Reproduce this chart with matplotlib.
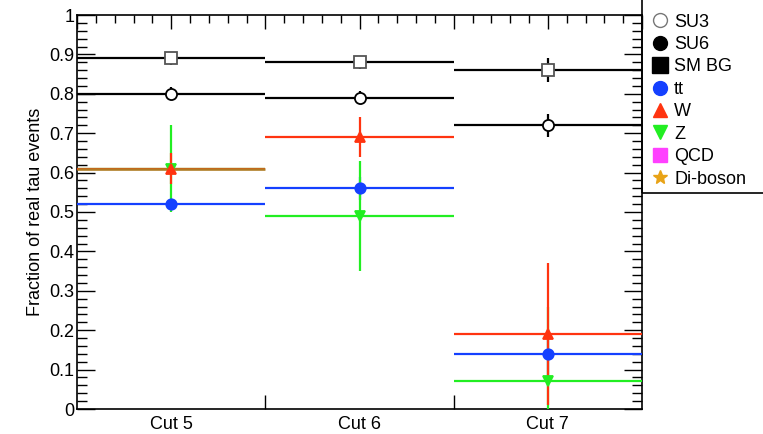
import numpy as np
import matplotlib

matplotlib.use("Agg")
import matplotlib.pyplot as plt
from matplotlib.lines import Line2D
from matplotlib.patches import Rectangle
from matplotlib.ticker import MultipleLocator, FuncFormatter

plt.rcParams["font.family"] = ["Liberation Sans", "DejaVu Sans"]

cuts = ["Cut 5", "Cut 6", "Cut 7"]

# fraction of real tau events per cut, with vertical errors
smbg = [0.89, 0.88, 0.86]
smbg_err = [0.017, 0.017, 0.03]
su3 = [0.80, 0.79, 0.72]
su3_err = [0.016, 0.016, 0.03]
tt = [0.52, 0.56, 0.14]
tt_err = [0.01, 0.03, 0.06]
w = [0.61, 0.69, 0.19]
w_err = [0.04, 0.05, 0.18]
z = [0.61, 0.49, 0.07]
z_err = [0.11, 0.14, 0.19]
diboson = [0.61, np.nan, np.nan]

BLUE = "#1440ff"
RED = "#ff3410"
GREEN = "#22ee22"
MAGENTA = "#ff40ff"
ORANGE = "#e8a317"

fig = plt.figure(figsize=(7.63, 4.34), dpi=100)
ax = fig.add_axes([77 / 763, 1 - 409 / 434, (642 - 77) / 763, (409 - 15) / 434])

x = np.arange(len(cuts)) + 0.5


def draw(vals, errs, color, marker, mfc, mec, ms, z_):
    ax.errorbar(x, vals, xerr=0.5, yerr=errs, fmt="none", ecolor=color,
                elinewidth=1.6, capsize=0, zorder=z_)
    ax.plot(x, vals, ls="none", marker=marker, mfc=mfc, mec=mec, ms=ms,
            mew=1.3, zorder=z_ + 10)


draw(tt, tt_err, BLUE, "o", BLUE, BLUE, 7.5, 3)
draw(w, w_err, RED, "^", RED, RED, 7.5, 4)
draw(z, z_err, GREEN, "v", GREEN, GREEN, 7.5, 3.5)
# di-boson only shows as the line over the W/Z overlap at cut 5
ax.errorbar(x, diboson, xerr=0.5, fmt="none", ecolor="#b07a22",
            elinewidth=1.8, zorder=4.5)
draw(su3, su3_err, "black", "o", "white", "black", 8, 5)
draw(smbg, smbg_err, "black", "s", "white", "#555555", 8, 5)

ax.set_xlim(0, 3)
ax.set_ylim(0, 1)

# y axis, ROOT style ticks on both sides
ax.yaxis.set_major_locator(MultipleLocator(0.1))
ax.yaxis.set_minor_locator(MultipleLocator(0.02))
ax.yaxis.set_major_formatter(FuncFormatter(lambda v, p: f"{v:g}"))
ax.tick_params(axis="y", which="major", direction="in", length=13, width=1,
               right=True, labelsize=13, pad=2)
ax.tick_params(axis="y", which="minor", direction="in", length=7, width=1,
               right=True)
ax.set_ylabel("Fraction of real tau events", fontsize=13, labelpad=4)

# x axis: labels at bin centres, ticks at bin edges
ax.set_xticks(x, cuts)
ax.set_xticks([1, 2], minor=True)
ax.tick_params(axis="x", which="major", length=0, labelsize=13, pad=5)
ax.tick_params(axis="x", which="minor", direction="in", length=10, width=1)

top = ax.secondary_xaxis("top")
top.xaxis.set_major_locator(MultipleLocator(0.5))
top.xaxis.set_minor_locator(MultipleLocator(0.1))
top.tick_params(which="major", direction="in", length=10, width=1,
                labeltop=False)
top.tick_params(which="minor", direction="in", length=6, width=1)
top.spines["top"].set_visible(False)

for s in ax.spines.values():
    s.set_linewidth(1.2)

# legend box sticking out to the right of the frame
fig.patches.append(Rectangle((642 / 763, 1 - 193 / 434), 0.3, 0.6,
                             transform=fig.transFigure, fill=False,
                             edgecolor="black", lw=1.2, zorder=0))

handles = [
    Line2D([], [], ls="none", marker="o", mfc="white", mec="#777777", ms=10),
    Line2D([], [], ls="none", marker="o", mfc="black", mec="black", ms=10),
    Line2D([], [], ls="none", marker="s", mfc="black", mec="black", ms=12),
    Line2D([], [], ls="none", marker="o", mfc=BLUE, mec=BLUE, ms=10),
    Line2D([], [], ls="none", marker="^", mfc=RED, mec=RED, ms=10),
    Line2D([], [], ls="none", marker="v", mfc=GREEN, mec=GREEN, ms=10),
    Line2D([], [], ls="none", marker="s", mfc=MAGENTA, mec=MAGENTA, ms=10),
    Line2D([], [], ls="none", marker="*", mfc=ORANGE, mec=ORANGE, ms=10),
]
labels = ["SU3", "SU6", "SM BG", "tt", "W", "Z", "QCD", "Di-boson"]
fig.legend(handles, labels, loc="upper left",
           bbox_to_anchor=(638 / 763, 1 - 1 / 434), frameon=False,
           fontsize=13, labelspacing=0.3, handlelength=1.0,
           handletextpad=0.3, borderpad=0.2)

fig.savefig("out.png", dpi=100)
